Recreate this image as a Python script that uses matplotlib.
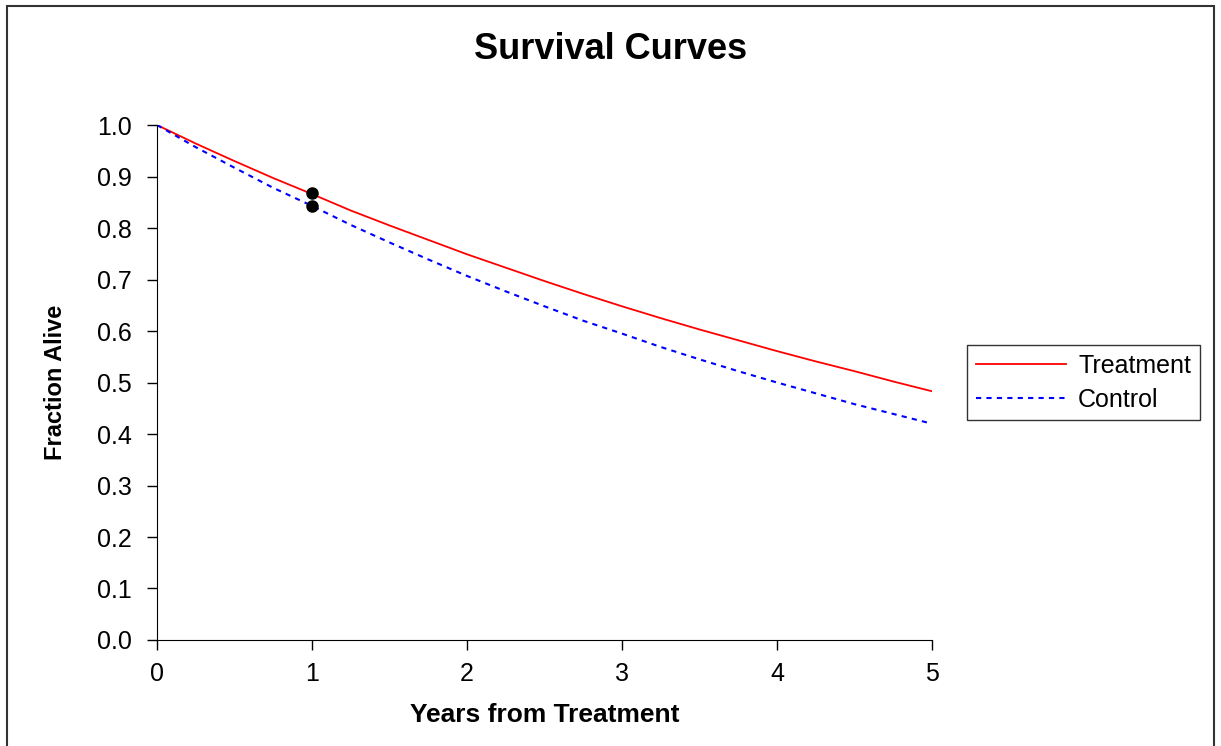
import matplotlib
matplotlib.use("Agg")
import matplotlib.pyplot as plt
from matplotlib.patches import Rectangle

plt.rcParams['font.family'] = ['Liberation Sans', 'DejaVu Sans']

# survival every quarter year
years = [0.0, 0.25, 0.5, 0.75, 1.0, 1.25, 1.5, 1.75, 2.0, 2.25, 2.5,
         2.75, 3.0, 3.25, 3.5, 3.75, 4.0, 4.25, 4.5, 4.75, 5.0]
treatment = [1.000, 0.964, 0.930, 0.897, 0.866, 0.834, 0.805, 0.777, 0.749, 0.723, 0.697,
             0.672, 0.648, 0.625, 0.603, 0.582, 0.561, 0.541, 0.522, 0.502, 0.483]
control = [1.000, 0.957, 0.917, 0.878, 0.843, 0.806, 0.772, 0.739, 0.707, 0.677, 0.648,
           0.620, 0.595, 0.569, 0.545, 0.522, 0.500, 0.479, 0.458, 0.439, 0.420]

# highlighted points at one year
mark_x = [1.0, 1.0]
mark_y = [0.868, 0.843]

fig = plt.figure(figsize=(12.21, 7.46), dpi=100)
ax = fig.add_axes([0.1286, 0.1421, 0.6347, 0.6903])

ax.plot(years, treatment, color="red", lw=1.3, label="Treatment")
ax.plot(years, control, color="blue", lw=1.5, linestyle=(0, (2.5, 2.5)), label="Control")
ax.plot(mark_x, mark_y, "o", color="black", markersize=8, zorder=5)

ax.set_xlim(0, 5)
ax.set_ylim(0, 1.0)
ax.set_xticks([0, 1, 2, 3, 4, 5])
ax.set_yticks([i / 10 for i in range(11)])
ax.set_yticklabels(["%.1f" % (i / 10) for i in range(11)])
ax.spines["top"].set_visible(False)
ax.spines["right"].set_visible(False)
ax.tick_params(direction="out", length=7, width=1, labelsize=18)
ax.tick_params(axis="y", pad=11)
ax.tick_params(axis="x", pad=9)

ax.set_xlabel("Years from Treatment", fontsize=19, fontweight="bold", labelpad=12)
ax.set_ylabel("Fraction Alive", fontsize=17, fontweight="bold", labelpad=22)
fig.text(0.5, 0.934, "Survival Curves", ha="center", va="center", fontsize=26, fontweight="bold")

leg = ax.legend(loc="center left", bbox_to_anchor=(1.045, 0.50), fontsize=18, frameon=True,
                fancybox=False, edgecolor="black", handlelength=3.6, borderpad=0.35,
                labelspacing=0.4, handletextpad=0.5, borderaxespad=0)
leg.get_frame().set_linewidth(1.0)

# frame round the whole chart
fig.patches.append(Rectangle((7 / 1221, -0.01), 1207 / 1221, 1.002, transform=fig.transFigure,
                             fill=False, edgecolor="#333333", lw=1.5))

fig.savefig("out.png", dpi=100)
